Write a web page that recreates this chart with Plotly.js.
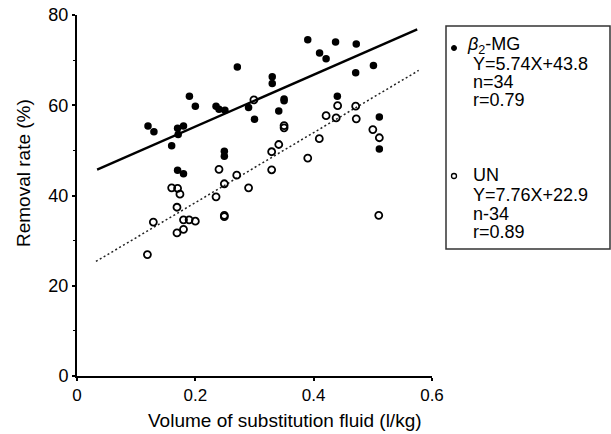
<!DOCTYPE html>
<html>
<head>
<meta charset="utf-8">
<script src="https://cdn.plot.ly/plotly-3.0.1.min.js"></script>
<style>html,body{margin:0;padding:0;background:#fff;}#chart{width:611px;height:434px;}</style>
</head>
<body>
<div id="chart"></div>
<script>
// beta2-MG (filled circles)
var mgX = [0.120,0.130,0.190,0.200,0.160,0.170,0.180,0.171,0.170,0.180,0.235,0.240,0.250,0.249,0.249,0.271,0.290,0.300,0.330,0.330,0.350,0.350,0.341,0.390,0.410,0.421,0.437,0.440,0.472,0.471,0.501,0.511,0.511];
var mgY = [55.4,54.1,62.0,59.8,51.0,54.9,55.4,53.5,45.6,44.8,59.8,59.1,58.9,49.8,48.7,68.5,59.5,56.9,66.3,64.8,61.4,61.0,58.7,74.5,71.6,70.3,74.0,62.0,73.6,67.2,68.8,57.4,50.3];
// UN (open circles)
var unX = [0.299,0.350,0.350,0.421,0.438,0.4405,0.471,0.472,0.500,0.511,0.4095,0.390,0.341,0.329,0.329,0.290,0.270,0.249,0.240,0.235,0.160,0.170,0.174,0.169,0.129,0.180,0.1895,0.200,0.180,0.169,0.249,0.249,0.510,0.119];
var unY = [61.2,55.5,55.0,57.7,57.2,59.9,59.8,57.0,54.6,52.8,52.6,48.3,51.3,49.7,45.7,41.7,44.5,42.6,45.8,39.7,41.7,41.6,40.3,37.4,34.1,34.6,34.6,34.3,32.5,31.7,35.6,35.3,35.6,26.9];
// regression lines (y = slope * x + intercept), drawn over [xStart, xEnd]
var fitSlope = [57.4, 77.6];
var fitIntercept = [43.8, 22.9];
var fitXStart = [0.034, 0.032];
var fitXEnd = [0.575, 0.5775];
// tick labels
var xTicks = [0, 0.2, 0.4, 0.6];
var xTickText = ['0', '0.2', '0.4', '0.6'];
var yTicks = [0, 20, 40, 60, 80];
var yTickText = ['0', '20', '40', '60', '80'];
// legend texts
var legMG = ['<i>β</i><sub>2</sub>-MG', 'Y=5.74X+43.8', 'n=34', 'r=0.79'];
var legUN = ['UN', 'Y=7.76X+22.9', 'n-34', 'r=0.89'];

var FONT = 'Liberation Sans, Arial, sans-serif';
var L = 77, R = 432, T = 15, B = 376;
function px(x) { return (x - L) / (R - L); }
function py(y) { return (B - y) / (B - T); }

function fitLine(i) {
  var xs = [fitXStart[i], fitXEnd[i]];
  return { x: xs, y: xs.map(function (v) { return fitSlope[i] * v + fitIntercept[i]; }) };
}
var f0 = fitLine(0), f1 = fitLine(1);

var traces = [
  { x: f1.x, y: f1.y, mode: 'lines', line: { color: '#222', width: 1.5, dash: '2px,2.5px' }, hoverinfo: 'skip' },
  { x: f0.x, y: f0.y, mode: 'lines', line: { color: '#000', width: 2.4 }, hoverinfo: 'skip' },
  { x: unX, y: unY, mode: 'markers', marker: { symbol: 'circle-open', size: 7, color: '#000', line: { width: 1.8, color: '#000' } } },
  { x: mgX, y: mgY, mode: 'markers', marker: { symbol: 'circle', size: 7.5, color: '#000' } }
];

var ann = [];
function addText(text, x, y, size) {
  ann.push({ text: text, xref: 'paper', yref: 'paper', x: px(x), y: py(y), xanchor: 'left', yanchor: 'middle',
    showarrow: false, font: { family: FONT, size: size || 18, color: '#000' } });
}
addText(legMG[0], 465, 46);
addText(legMG[1], 471, 64);
addText(legMG[2], 471, 82);
addText(legMG[3], 471, 100);
addText(legUN[0], 471, 175);
addText(legUN[1], 471, 195);
addText(legUN[2], 471, 214);
addText(legUN[3], 471, 232);
ann.push({ text: 'Removal rate (%)', xref: 'paper', yref: 'paper', x: px(23), y: py(173), textangle: -90,
  xanchor: 'center', yanchor: 'middle', showarrow: false, font: { family: FONT, size: 19, color: '#000' } });
ann.push({ text: 'Volume of substitution fluid (l/kg)', xref: 'paper', yref: 'paper', x: px(285), y: py(420),
  xanchor: 'center', yanchor: 'middle', showarrow: false, font: { family: FONT, size: 19, color: '#000' } });

var shapes = [
  { type: 'rect', xref: 'paper', yref: 'paper', x0: px(446), x1: px(610), y0: py(249), y1: py(26),
    line: { color: '#333', width: 1.5 }, fillcolor: 'rgba(0,0,0,0)' },
  { type: 'circle', xref: 'paper', yref: 'paper', xsizemode: 'pixel', ysizemode: 'pixel',
    xanchor: px(454), yanchor: py(48), x0: -2.5, x1: 2.5, y0: -2.5, y1: 2.5,
    fillcolor: '#000', line: { color: '#000', width: 1 } },
  { type: 'circle', xref: 'paper', yref: 'paper', xsizemode: 'pixel', ysizemode: 'pixel',
    xanchor: px(454), yanchor: py(176), x0: -2.5, x1: 2.5, y0: -2.5, y1: 2.5,
    fillcolor: 'rgba(0,0,0,0)', line: { color: '#000', width: 1.3 } }
];

var layout = {
  width: 611, height: 434,
  margin: { l: L, r: 611 - R, t: T, b: 434 - B, pad: 0 },
  paper_bgcolor: '#fff', plot_bgcolor: '#fff',
  showlegend: false,
  font: { family: FONT, color: '#000' },
  xaxis: {
    range: [0, 0.6], tickvals: xTicks, ticktext: xTickText, showgrid: false, zeroline: false,
    showline: true, linecolor: '#000', linewidth: 2, ticks: 'outside', ticklen: 3, tickwidth: 2, tickcolor: '#000',
    tickfont: { family: FONT, size: 17, color: '#000' }, fixedrange: true
  },
  yaxis: {
    range: [0, 80], tickvals: yTicks, ticktext: yTickText, showgrid: false, zeroline: false,
    showline: true, linecolor: '#000', linewidth: 2, ticks: 'outside', ticklen: 3, tickwidth: 2, tickcolor: '#000',
    tickfont: { family: FONT, size: 18, color: '#000' }, fixedrange: true,
    minor: { dtick: 10, ticks: 'outside', ticklen: 2, tickwidth: 1, tickcolor: '#000' }
  },
  annotations: ann,
  shapes: shapes
};

Plotly.newPlot('chart', traces, layout, { displayModeBar: false, staticPlot: true });
</script>
</body>
</html>
